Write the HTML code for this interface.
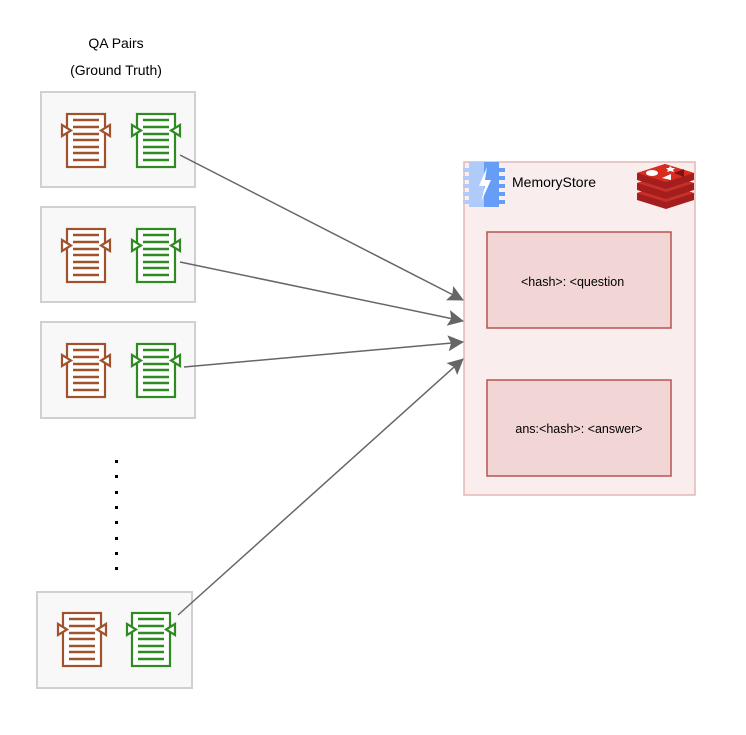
<!DOCTYPE html>
<html><head><meta charset="utf-8"><style>
html,body{margin:0;padding:0;background:#fff;}
svg text{font-family:"Liberation Sans",Arial,sans-serif;}
</style></head><body>
<svg width="746" height="730" viewBox="0 0 746 730" xmlns="http://www.w3.org/2000/svg">
<defs>
<g id="doc">
  <rect x="1" y="1" width="38" height="53" fill="#fff" stroke="currentColor" stroke-width="2.2"/>
  <g stroke="currentColor" stroke-width="2.4">
    <line x1="7" y1="7" x2="33" y2="7"/><line x1="7" y1="14" x2="33" y2="14"/>
    <line x1="7" y1="21" x2="33" y2="21"/><line x1="7" y1="27" x2="33" y2="27"/>
    <line x1="7" y1="34" x2="33" y2="34"/><line x1="7" y1="40" x2="33" y2="40"/>
    <line x1="7" y1="47" x2="33" y2="47"/>
  </g>
  <polygon points="-4,12 5,17.5 -4,23" fill="#fff" stroke="currentColor" stroke-width="2.2"/>
  <polygon points="44,12 35,17.5 44,23" fill="#fff" stroke="currentColor" stroke-width="2.2"/>
</g>
<marker id="ah2" markerWidth="16" markerHeight="16" refX="15" refY="8" orient="auto" markerUnits="userSpaceOnUse" viewBox="0 0 16 16">
  <path d="M0,0 L16,8 L0,16 L3,8 Z" fill="#666"/>
</marker>
</defs>

<text x="116" y="48" font-size="14" text-anchor="middle" fill="#000">QA Pairs</text>
<text x="116" y="75" font-size="14" text-anchor="middle" fill="#000">(Ground Truth)</text>

<rect x="41" y="92" width="154" height="95" fill="#f8f8f8" stroke="#d0d0d0" stroke-width="2"/>
<use href="#doc" x="66" y="113" style="color:#a0522d"/>
<use href="#doc" x="136" y="113" style="color:#2f8a22"/>

<rect x="41" y="207" width="154" height="95" fill="#f8f8f8" stroke="#d0d0d0" stroke-width="2"/>
<use href="#doc" x="66" y="228" style="color:#a0522d"/>
<use href="#doc" x="136" y="228" style="color:#2f8a22"/>

<rect x="41" y="322" width="154" height="96" fill="#f8f8f8" stroke="#d0d0d0" stroke-width="2"/>
<use href="#doc" x="66" y="343" style="color:#a0522d"/>
<use href="#doc" x="136" y="343" style="color:#2f8a22"/>

<rect x="37" y="592" width="155" height="96" fill="#f8f8f8" stroke="#d0d0d0" stroke-width="2"/>
<use href="#doc" x="62" y="612" style="color:#a0522d"/>
<use href="#doc" x="131" y="612" style="color:#2f8a22"/>

<g fill="#000">
<rect x="115" y="460" width="3" height="3"/><rect x="115" y="475" width="3" height="3"/>
<rect x="115" y="491" width="3" height="3"/><rect x="115" y="506" width="3" height="3"/>
<rect x="115" y="521" width="3" height="3"/><rect x="115" y="537" width="3" height="3"/>
<rect x="115" y="552" width="3" height="3"/><rect x="115" y="567" width="3" height="3"/>
</g>

<rect x="464" y="162" width="231" height="333" fill="#f9eded" stroke="#e2b8b8" stroke-width="1.5"/>

<g stroke="#666" stroke-width="1.5" fill="none">
<line x1="180" y1="155" x2="463" y2="300" marker-end="url(#ah2)"/>
<line x1="180" y1="262" x2="463" y2="321" marker-end="url(#ah2)"/>
<line x1="184" y1="367" x2="463" y2="342" marker-end="url(#ah2)"/>
<line x1="178" y1="615" x2="463" y2="359" marker-end="url(#ah2)"/>
</g>

<!-- memorystore icon -->
<g>
  <rect x="469" y="162" width="30" height="45" fill="#aecbfa"/>
  <rect x="484" y="162" width="15" height="45" fill="#669df6"/>
  <g fill="#aecbfa">
    <rect x="463" y="168" width="6" height="4"/><rect x="463" y="176" width="6" height="4"/>
    <rect x="463" y="184" width="6" height="4"/><rect x="463" y="192" width="6" height="4"/>
    <rect x="463" y="200" width="6" height="4"/>
  </g>
  <g fill="#669df6">
    <rect x="499" y="168" width="6" height="4"/><rect x="499" y="176" width="6" height="4"/>
    <rect x="499" y="184" width="6" height="4"/><rect x="499" y="192" width="6" height="4"/>
    <rect x="499" y="200" width="6" height="4"/>
  </g>
  <polygon points="487,167 479,186 485,186 481,202 491,180 485,180" fill="#fff"/>
</g>
<text x="512" y="187" font-size="14" fill="#000">MemoryStore</text>

<!-- redis icon -->
<g>
  <path d="M637,193 L665,184 L694,193 L694,200 L666,209 L637,200 Z" fill="#a41e1e"/>
  <path d="M637,193 L665,184 L694,193 L666,202 Z" fill="#c6302b"/>
  <path d="M637,183 L665,174 L694,183 L694,190 L666,199 L637,190 Z" fill="#a41e1e"/>
  <path d="M637,183 L665,174 L694,183 L666,192 Z" fill="#c6302b"/>
  <path d="M637,173 L665,164 L694,173 L694,180 L666,189 L637,180 Z" fill="#a41e1e"/>
  <path d="M637,173 L665,164 L694,173 L666,182 Z" fill="#d82c20"/>
  <ellipse cx="652" cy="173" rx="6" ry="3" fill="#fff"/>
  <polygon points="662,178 671,174 671,180" fill="#fff"/>
  <polygon points="670,166 672,168 675,168 673,170 674,172 670,171 667,172 668,170 666,168 669,168" fill="#fff"/>
  <polygon points="674,173 684,169 684,177" fill="#7a1414"/>
</g>

<rect x="487" y="232" width="184" height="96" fill="#f2d5d5" stroke="#b85450" stroke-width="1.5"/>
<text x="521" y="286" font-size="12.5" fill="#000">&lt;hash&gt;: &lt;question</text>

<rect x="487" y="380" width="184" height="96" fill="#f2d5d5" stroke="#b85450" stroke-width="1.5"/>
<text x="579" y="433" font-size="12.5" text-anchor="middle" fill="#000">ans:&lt;hash&gt;: &lt;answer&gt;</text>
</svg>
</body></html>
